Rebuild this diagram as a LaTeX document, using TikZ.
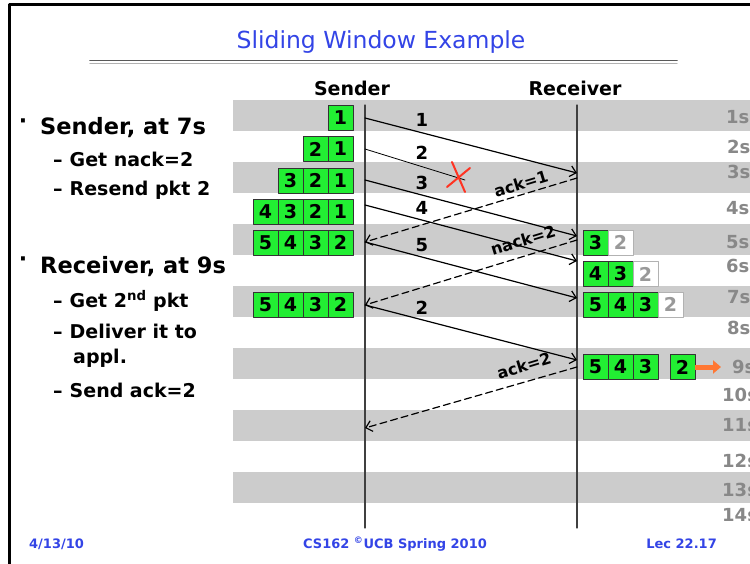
\documentclass[tikz,border=0pt]{standalone}
\usepackage{fontspec}
\setmainfont{DejaVu Sans}
\usetikzlibrary{arrows.meta}
\usetikzlibrary{positioning}
\definecolor{titleblue}{RGB}{51,68,230}
\definecolor{pktgreen}{RGB}{34,238,51}
\definecolor{bandgray}{RGB}{204,204,204}
\definecolor{timegray}{RGB}{136,136,136}
\definecolor{sendorange}{RGB}{255,119,51}
\definecolor{crossred}{RGB}{255,51,34}

\begin{document}
\begin{tikzpicture}[line cap=round,line join=round,x=1pt,y=-1pt,
  cell/.style={draw=black!80,fill=pktgreen,line width=0.8pt,minimum width=25pt,minimum height=25pt,inner sep=0pt,font=\bfseries\fontsize{19}{19}\selectfont},
  oldcell/.style={cell,draw=black!30,fill=white,text=black!40},
  pkt/.style={line width=1.2pt,-{Straight Barb[length=6pt,width=11pt]}},
  ackline/.style={pkt,dash pattern=on 7pt off 4pt},
  pktlabel/.style={font=\bfseries\fontsize{18}{18}\selectfont},
  acklabel/.style={inner sep=1pt,font=\bfseries\fontsize{16}{16}\selectfont,rotate=17},
  timelabel/.style={anchor=west,inner sep=0pt,text=timegray,font=\bfseries\fontsize{18}{18}\selectfont},
  hdr/.style={font=\bfseries\fontsize{19}{19}\selectfont},
  dot/.style={inner sep=0pt,font=\bfseries\fontsize{22}{22}\selectfont},
  mainitem/.style={anchor=base west,inner sep=0pt,font=\bfseries\fontsize{22.5}{22.5}\selectfont},
  subitem/.style={anchor=base west,inner sep=0pt,font=\bfseries\fontsize{19}{19}\selectfont},
  foot/.style={anchor=base,inner sep=0pt,text=titleblue,font=\bfseries\fontsize{13}{13}\selectfont}]
\useasboundingbox (0,0) rectangle (750,564);
\clip (0,0) rectangle (750,564);
% slide frame and title
\draw [line width=3pt] (9,570)-- (9,5)-- (760,5);
\node[text=titleblue,font=\fontsize{23.5}{23.5}\selectfont] (title) at (381,42) {Sliding Window Example};
\draw [line width=1.6pt,black!65] (90,60.5)-- (677,60.5);
\draw [line width=1.2pt,black!30] (90,63.5)-- (677,63.5);
% time bands
\foreach \k in {0,...,6}
  \fill [bandgray] (233,100+62*\k) rectangle (750,131+62*\k);
\foreach \t/\y/\x in {1/117/726,2/147/727,3/172/727,4/208/726,5/242/726,6/266/726,7/297/727,8/328/727,9/367/732,10/395/722,11/425/722,12/461/722,13/490/722,14/515/722}
  \node[timelabel] (t\t) at (\x,\y) {\t s};
% time lines
\node[hdr] (sender) at (352,88) {Sender};
\node[hdr] (receiver) at (575,88) {Receiver};
\coordinate (sndtop) at (365,105);
\coordinate (sndbot) at (365,528);
\coordinate (rcvtop) at (577,105);
\coordinate (rcvbot) at (577,528);
\draw [line width=1.2pt,black!75] (sndtop)-- (sndbot);
\draw [line width=1.2pt,black!75] (rcvtop)-- (rcvbot);
% sender windows
\foreach \n [count=\i] in {1} \node[cell] (sa\i) at (365.5-25*\i,117.5) {\n};
\foreach \n [count=\i] in {1,2} \node[cell] (sb\i) at (365.5-25*\i,149) {\n};
\foreach \n [count=\i] in {1,2,3} \node[cell] (sc\i) at (365.5-25*\i,180.5) {\n};
\foreach \n [count=\i] in {1,2,3,4} \node[cell] (sd\i) at (365.5-25*\i,211.5) {\n};
\foreach \n [count=\i] in {2,3,4,5} \node[cell] (se\i) at (365.5-25*\i,242.5) {\n};
\foreach \n [count=\i] in {2,3,4,5} \node[cell] (sg\i) at (365.5-25*\i,304.5) {\n};
% receiver windows
\node[cell] (ra1) at (595.5,242.5) {3};
\node[oldcell] (ra2) at (620.5,242.5) {2};
\foreach \n [count=\i] in {4,3} \node[cell] (rb\i) at (570.5+25*\i,274) {\n};
\node[oldcell] (rb3) at (645.5,274) {2};
\foreach \n [count=\i] in {5,4,3} \node[cell] (rc\i) at (570.5+25*\i,304.5) {\n};
\node[oldcell] (rc4) at (670.5,304.5) {2};
\foreach \n [count=\i] in {5,4,3} \node[cell] (rd\i) at (570.5+25*\i,367) {\n};
\node[cell] (rd4) at (682.5,367) {2};
\coordinate (appl) at (721,367);
\draw [sendorange,line width=5pt,line cap=butt,-{Triangle[length=8pt,width=13pt]}] (rd4.east)-- (appl);
% packets
\coordinate (s1) at (365,118);
\coordinate (r1) at (577,173);
\coordinate (s2) at (365,149);
\coordinate (lost) at (465,180);
\coordinate (s3) at (365,180);
\coordinate (r3) at (577,236);
\coordinate (s4) at (365,205);
\coordinate (r4) at (577,261);
\coordinate (s5) at (365,242);
\coordinate (r5) at (577,298);
\coordinate (s6) at (365,305);
\coordinate (r6) at (577,360);
\draw [pkt] (s1)-- (r1);
\draw [line width=0.8pt] (s2)-- (lost);
\draw [pkt] (s3)-- (r3);
\draw [pkt] (s4)-- (r4);
\draw [pkt] (s5)-- (r5);
\draw [pkt] (s6)-- (r6);
\draw [crossred,line width=2pt] (447,187)-- (470,168);
\draw [crossred,line width=2pt] (452,162)-- (465,192);
\node[pktlabel] (p1) at (422,120) {1};
\node[pktlabel] (p2) at (422,153) {2};
\node[pktlabel] (p3) at (422,183) {3};
\node[pktlabel] (p4) at (422,208) {4};
\node[pktlabel] (p5) at (422,245) {5};
\node[pktlabel] (p6) at (422,308) {2};
% acks
\coordinate (a1) at (577,178);
\coordinate (a2) at (577,240);
\coordinate (a3) at (577,367);
\coordinate (b3) at (365,428);
\draw [ackline] (a1)-- (s5);
\draw [ackline] (a2)-- (s6);
\draw [ackline] (a3)-- (b3);
\node[acklabel] (ack1) at (521,184) {ack=1};
\node[acklabel] (nack2) at (523,240) {nack=2};
\node[acklabel] (ack2) at (524,366) {ack=2};
% notes
\node[dot] (dot1) at (23,124) {·};
\node[mainitem] (note1) at (40,135) {Sender, at 7s};
\node[subitem] (note1a) at (53,167) {–\hspace{7pt}Get nack=2};
\node[subitem] (note1b) at (53,196) {–\hspace{7pt}Resend pkt 2};
\node[dot] (dot2) at (23,262) {·};
\node[mainitem] (note2) at (40,273) {Receiver, at 9s};
\node[subitem] (note2a) at (53,307) {–\hspace{7pt}Get 2\textsuperscript{nd} pkt};
\node[subitem] (note2b) at (53,338) {–\hspace{7pt}Deliver it to};
\node[subitem] (note2c) at (73,363) {appl.};
\node[subitem] (note2d) at (53,397) {–\hspace{7pt}Send ack=2};
% footer
\node[foot,anchor=base west] (date) at (29,548) {4/13/10};
\node[foot] (course) at (395,548) {CS162 \textsuperscript{©}UCB Spring 2010};
\node[foot,anchor=base east] (lec) at (717,548) {Lec 22.17};
\end{tikzpicture}
\end{document}
